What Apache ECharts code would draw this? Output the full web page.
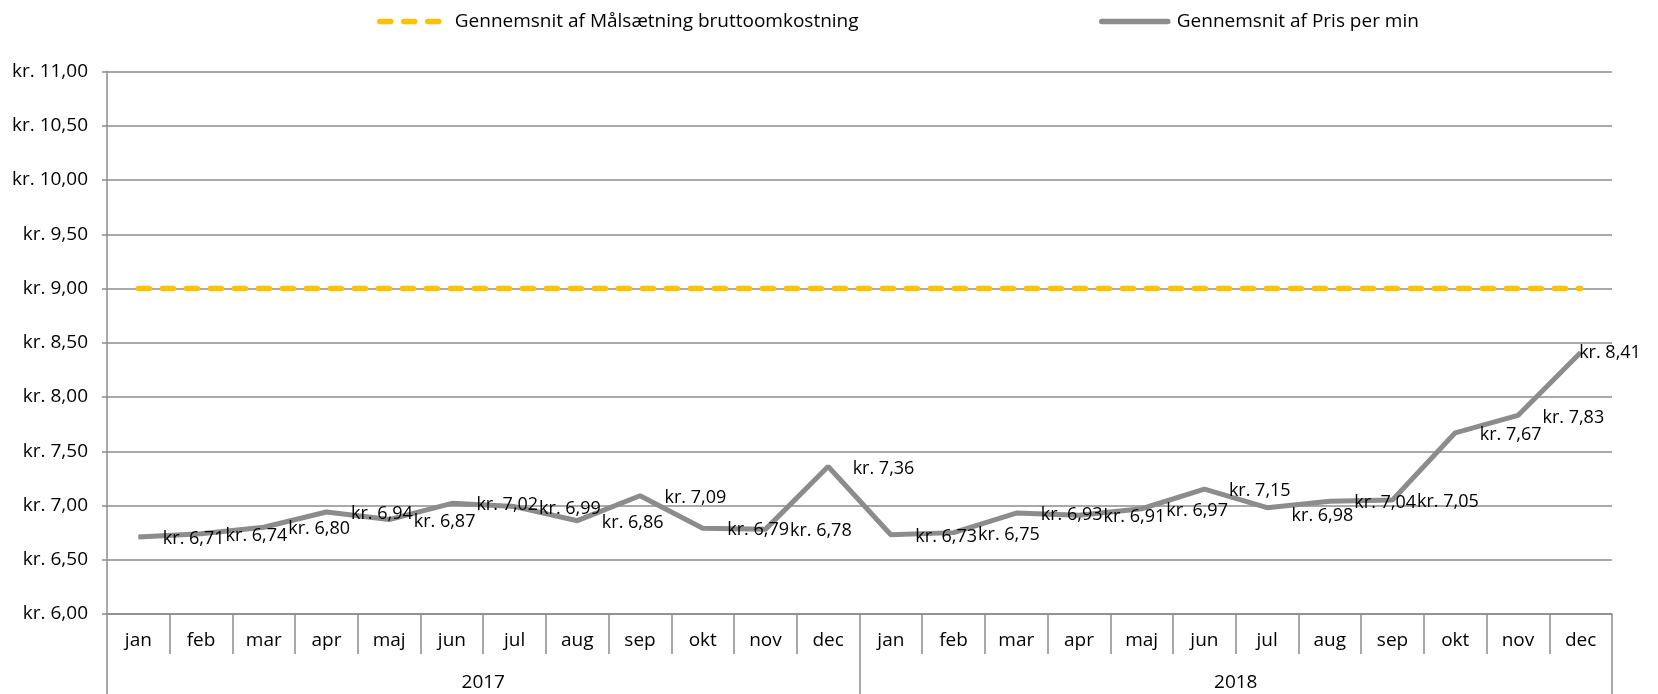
<!doctype html>
<html lang="da">
<head>
    <meta charset="UTF-8">
    <title>Pris per min</title>
    <style>
        html, body { margin: 0; padding: 0; background: #fff; }
        #main { width: 1658px; height: 694px; }
    </style>
</head>
<body>
<div id="main"></div>
<script src="https://cdn.jsdelivr.net/npm/echarts@6/dist/echarts.min.js"></script>
<script>
    var months = ['jan', 'feb', 'mar', 'apr', 'maj', 'jun', 'jul', 'aug', 'sep', 'okt', 'nov', 'dec',
        'jan', 'feb', 'mar', 'apr', 'maj', 'jun', 'jul', 'aug', 'sep', 'okt', 'nov', 'dec'];
    var years = ['2017', '2018'];
    var prisPerMin = [6.71, 6.74, 6.80, 6.94, 6.87, 7.02, 6.99, 6.86, 7.09, 6.79, 6.78, 7.36,
        6.73, 6.75, 6.93, 6.91, 6.97, 7.15, 6.98, 7.04, 7.05, 7.67, 7.83, 8.41];
    var maalsaetning = [9, 9, 9, 9, 9, 9, 9, 9, 9, 9, 9, 9,
        9, 9, 9, 9, 9, 9, 9, 9, 9, 9, 9, 9];
    var yTicks = [6, 11, 0.5]; // min, max, interval

    var FONT = '"Open Sans", "Noto Sans", sans-serif';
    var kr = function (v) {
        return 'kr. ' + v.toFixed(2).replace('.', ',');
    };

    // a couple of labels sit elsewhere in the original
    var labelFix = {
        18: {offset: [0, 8]},
        23: {distance: -2, offset: [0, 0]}
    };
    var prisData = prisPerMin.map(function (v, i) {
        var item = {value: v};
        if (labelFix[i]) item.label = labelFix[i];
        return item;
    });

    var legendBase = {
        top: 7,
        itemWidth: 66, itemHeight: 6,
        itemStyle: {opacity: 0},
        lineStyle: {width: 5.5, cap: 'round', opacity: 1},
        textStyle: {fontSize: 19, color: '#000', fontFamily: FONT, padding: [0, 0, 0, 4]}
    };

    var myChart = echarts.init(document.getElementById('main'));
    var option = {
        backgroundColor: '#fff',
        textStyle: {fontFamily: FONT},
        legend: [
            echarts.util.merge({left: 372, data: ['Gennemsnit af Målsætning bruttoomkostning']}, legendBase),
            echarts.util.merge({left: 1094, data: ['Gennemsnit af Pris per min']}, legendBase)
        ],
        grid: {left: 107, right: 46, top: 71.5, bottom: 80},
        xAxis: [{
            type: 'category',
            data: months,
            boundaryGap: true,
            axisLine: {lineStyle: {color: '#8c8c8c', width: 1.5}},
            axisTick: {show: true, interval: 0, length: 40, lineStyle: {color: '#8c8c8c', width: 1.5}},
            axisLabel: {interval: 0, margin: 17, fontSize: 19, color: '#000', fontFamily: FONT}
        }, {
            type: 'category',
            data: years,
            position: 'bottom',
            boundaryGap: true,
            axisLine: {show: false},
            axisTick: {show: true, interval: 0, length: 82, lineStyle: {color: '#8c8c8c', width: 1.5}},
            axisLabel: {interval: 0, margin: 59, fontSize: 19, color: '#000', fontFamily: FONT}
        }],
        yAxis: {
            type: 'value',
            min: yTicks[0],
            max: yTicks[1],
            interval: yTicks[2],
            axisLine: {show: true, lineStyle: {color: '#8c8c8c', width: 1.5}},
            axisTick: {show: true, length: 5, lineStyle: {color: '#8c8c8c', width: 1.5}},
            splitLine: {lineStyle: {color: '#8c8c8c', width: 1.5}},
            axisLabel: {
                margin: 19, fontSize: 19, color: '#000', fontFamily: FONT,
                formatter: function (v) { return kr(v); }
            }
        },
        series: [{
            name: 'Gennemsnit af Målsætning bruttoomkostning',
            type: 'line',
            data: maalsaetning,
            symbol: 'none',
            z: 3,
            lineStyle: {color: '#FFC000', width: 5.5, type: [11, 13], cap: 'round'},
            itemStyle: {color: '#FFC000'}
        }, {
            name: 'Gennemsnit af Pris per min',
            type: 'line',
            data: prisData,
            symbol: 'circle',
            symbolSize: 1,
            z: 4,
            lineStyle: {color: '#8c8c8c', width: 5},
            itemStyle: {color: '#8c8c8c'},
            label: {
                show: true,
                position: 'right',
                distance: 24,
                offset: [0, 2],
                fontSize: 18,
                color: '#000',
                fontFamily: FONT,
                formatter: function (p) { return kr(p.value); }
            }
        }],
        animation: false
    };
    myChart.setOption(option);
</script>
</body>
</html>
